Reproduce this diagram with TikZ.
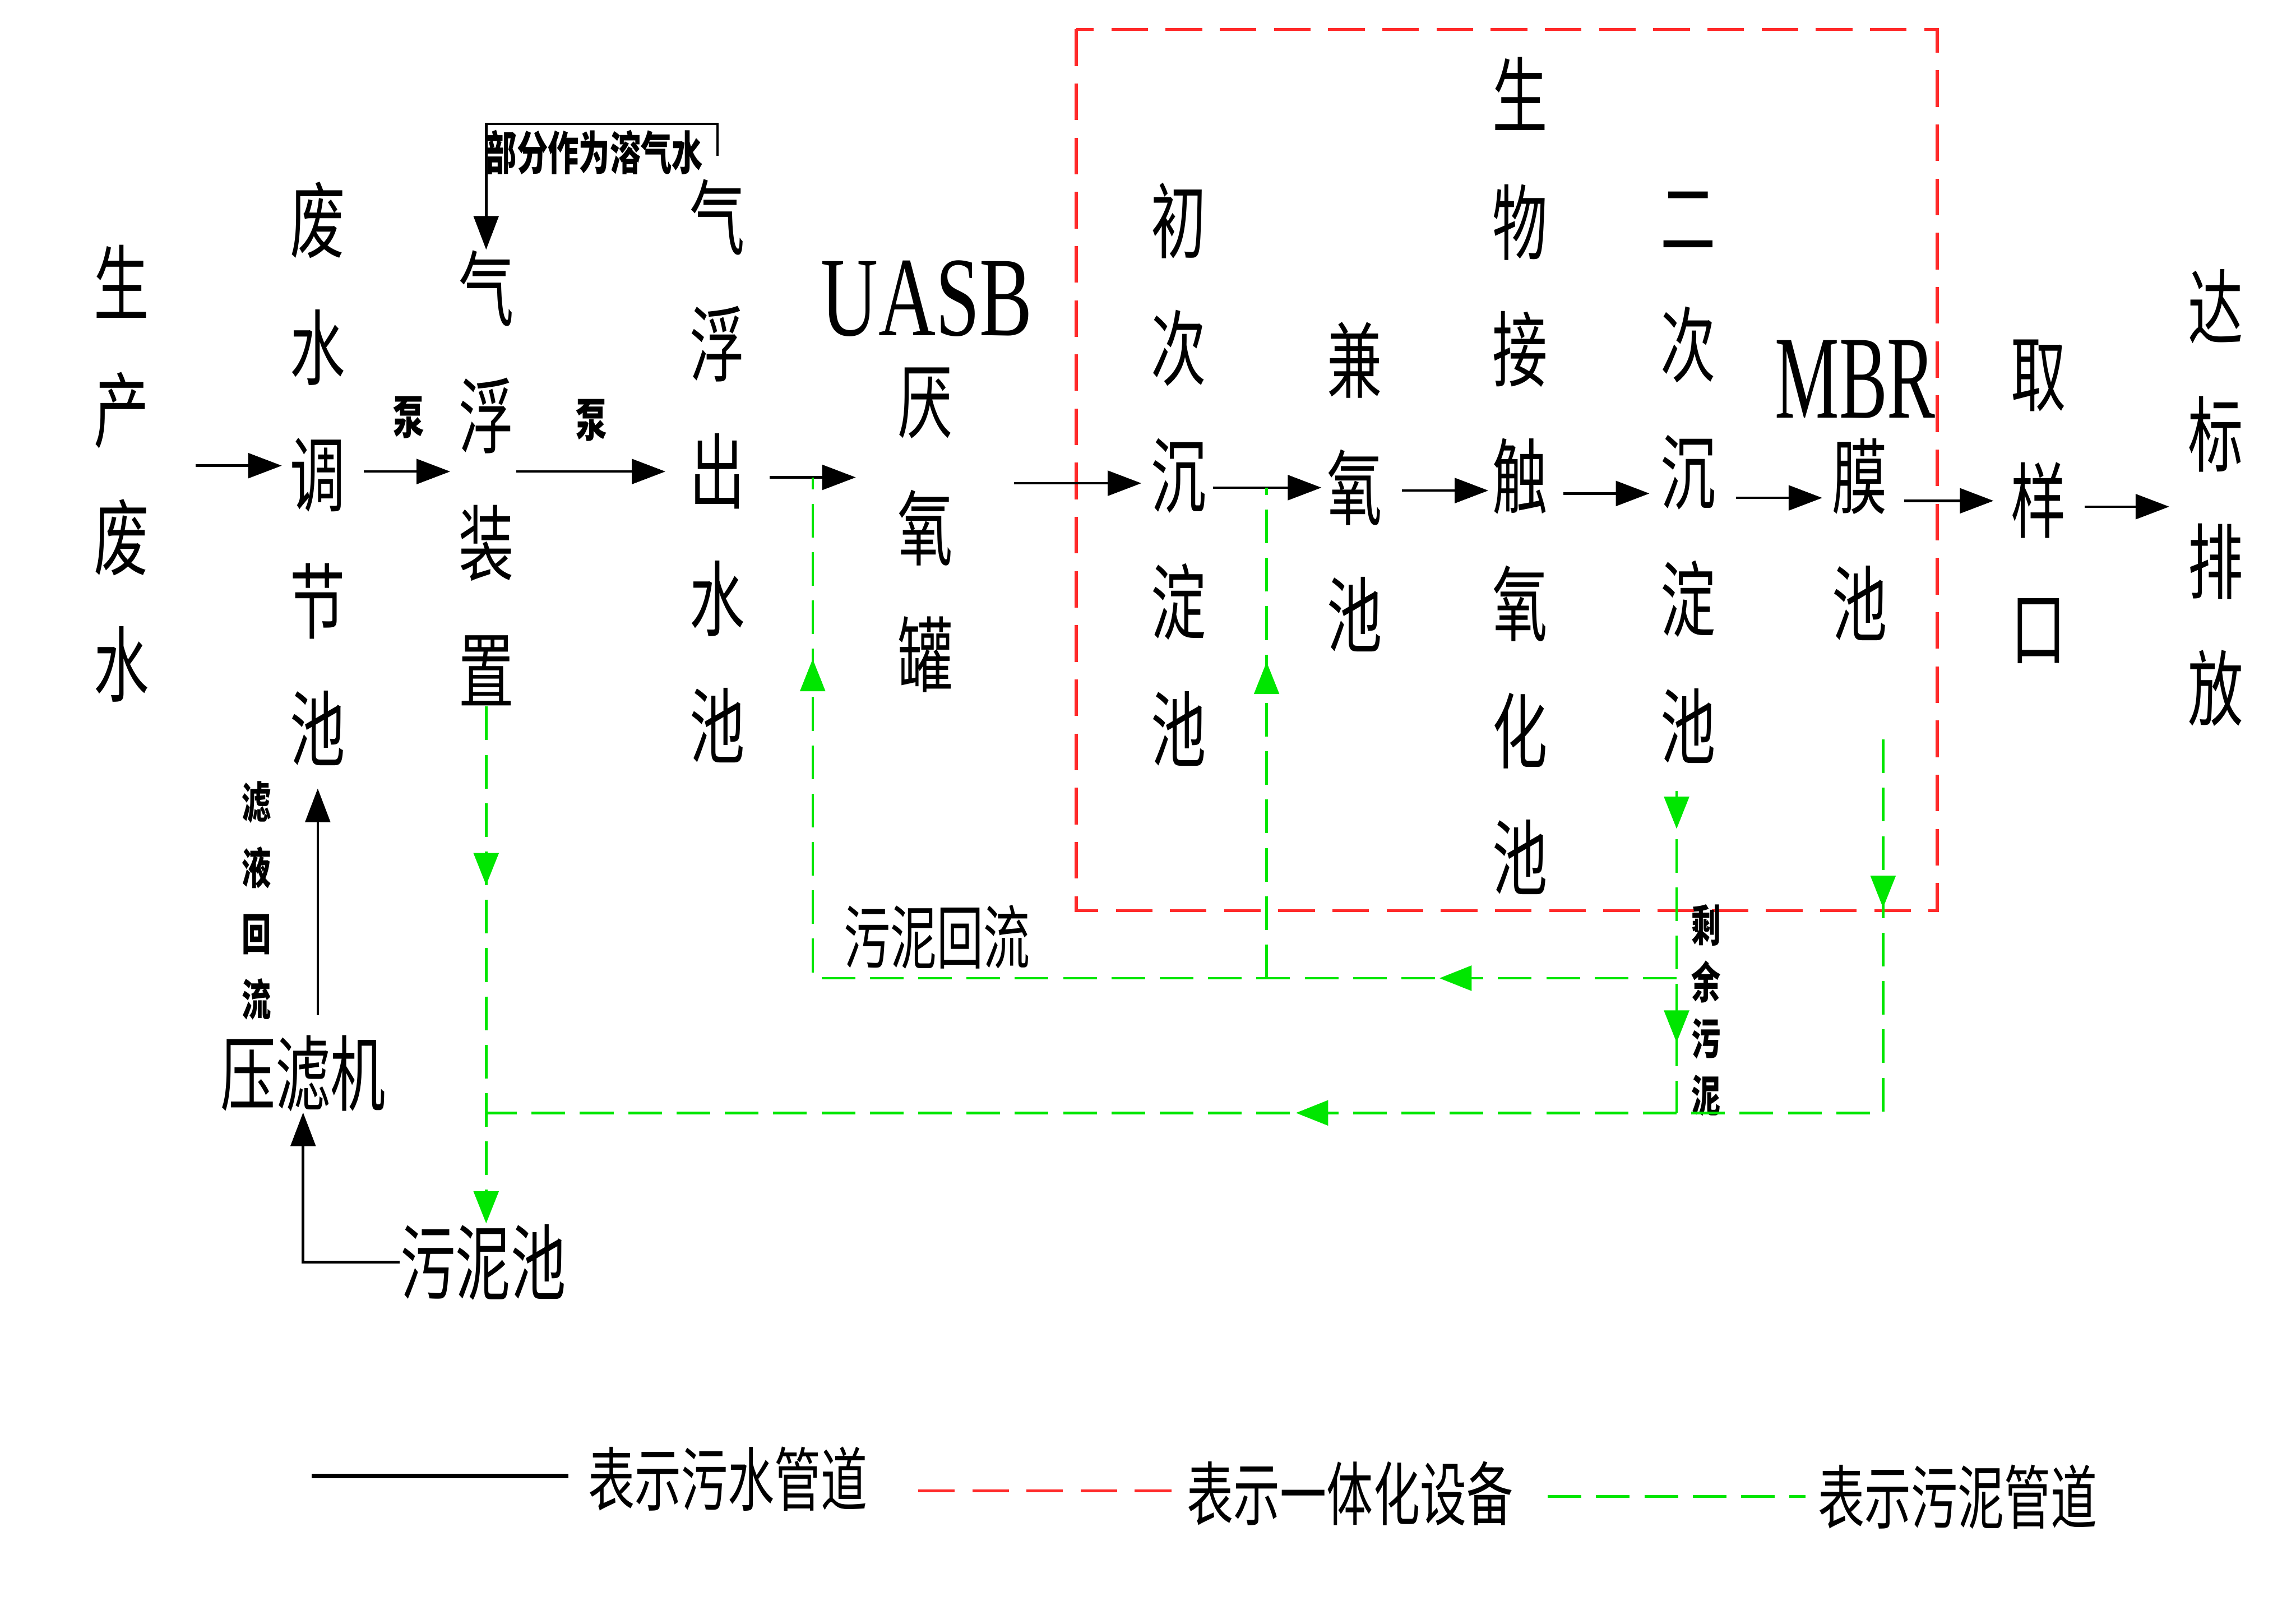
\documentclass[tikz,border=0pt]{standalone}
\usepackage{fontspec}
\setmainfont[FakeStretch=0.67]{Noto Sans CJK SC}
\newfontfamily\latnfont[FakeStretch=0.70]{Liberation Serif}
\newfontfamily\latnnarrow[FakeStretch=0.61]{Liberation Serif}
\usepackage{tikz}
\usetikzlibrary{arrows.meta,decorations.markings}
\definecolor{sludgegreen}{HTML}{00E600}
\definecolor{unitred}{HTML}{FF2A2A}

\begin{document}
\begin{tikzpicture}[x=0.1mm,y=-0.1mm,
  colnode/.style={align=center,inner sep=0pt,font=\fontsize{16}{24.7}\selectfont},
  bignote/.style={inner sep=0pt,font=\fontsize{16}{16}\selectfont},
  legendtext/.style={inner sep=0pt,font=\fontsize{13.5}{13.5}\selectfont},
  smallnote/.style={inner sep=0pt,font=\fontsize{9}{9}\selectfont\bfseries},
  tinycol/.style={align=center,inner sep=0pt,font=\fontsize{8.5}{#1}\selectfont\bfseries},
  latn/.style={inner sep=0pt,font=\latnfont\fontsize{22}{22}\selectfont},
  flow/.style={draw=black,line width=0.5pt,-{Triangle[length=2.3mm,width=1.7mm]}},
  sludgeline/.style={draw=sludgegreen,line width=0.5pt,dash pattern=on 2.3mm off 1mm},
  unitbox/.style={draw=unitred,line width=0.55pt,dash pattern=on 2.5mm off 1.2mm},
  tipat/.style={postaction={decorate,decoration={markings,
    mark=at position #1 with {\arrow{Triangle[length=2.2mm,width=1.7mm]}}}}}]
  \useasboundingbox (0,0) rectangle (1568,1093);

  % integrated unit
  \draw[unitbox] (735,20) rectangle (1323,622);

  % process columns
  \node[colnode] (scfs) at (83,323.5) {生\\产\\废\\水};
  \node[colnode] (tjc) at (217,323.5) {废\\水\\调\\节\\池};
  \node[colnode] (qfzz) at (332,326.5) {气\\浮\\装\\置};
  \node[colnode] (qfcs) at (490,321.5) {气\\浮\\出\\水\\池};
  \node[latn] (uasb) at (633,204) {UASB};
  \node[colnode] (yyg) at (632,362) {厌\\氧\\罐};
  \node[colnode] (ccc) at (805,324) {初\\次\\沉\\淀\\池};
  \node[colnode] (jyc) at (925,332.5) {兼\\氧\\池};
  \node[colnode] (swc) at (1038,325) {生\\物\\接\\触\\氧\\化\\池};
  \node[colnode] (ecc) at (1153,326) {二\\次\\沉\\淀\\池};
  \node[latn,font=\latnnarrow\fontsize{23}{23}\selectfont] (mbr) at (1267,259) {MBR};
  \node[colnode] (mc) at (1270,368.5) {膜\\池};
  \node[colnode] (qyk) at (1392,342.5) {取\\样\\口};
  \node[colnode] (dbpf) at (1513,340) {达\\标\\排\\放};

  \node[bignote] (ylj) at (207,733) {压滤机};
  \node[bignote] (wnc) at (330,862) {污泥池};

  % notes
  \node[smallnote] (beng1) at (279,285) {泵};
  \node[smallnote] (beng2) at (404,287) {泵};
  \node[smallnote] (fbnote) at (406,104) {部分作为溶气水};
  \node[tinycol=12.8] (lylnote) at (175,615) {滤\\液\\回\\流};
  \node[tinycol=11] (sywnote) at (1165,690) {剩\\余\\污\\泥};
  \node[legendtext] (hlnote) at (640,640) {污泥回流};

  % wastewater line
  \draw[flow,shorten <=3.1mm,shorten >=0.5mm] (scfs.east |- 0,318) -- (tjc.west |- 0,318);
  \draw[flow,shorten <=1.2mm,shorten >=0.5mm] (tjc.east |- 0,322) -- (qfzz.west |- 0,322);
  \draw[flow,shorten <=0.1mm,shorten >=1.6mm] (qfzz.east |- 0,322) -- (qfcs.west |- 0,322);
  \draw[flow,shorten <=1.6mm,shorten >=2.8mm] (qfcs.east |- 0,326) -- (yyg.west |- 0,326);
  \draw[flow,shorten <=4.1mm,shorten >=0.6mm] (yyg.east |- 0,330) -- (ccc.west |- 0,330);
  \draw[flow,shorten <=0.4mm,shorten >=0.3mm] (ccc.east |- 0,333) -- (jyc.west |- 0,333);
  \draw[flow,shorten <=1.3mm,shorten >=0.2mm] (jyc.east |- 0,335) -- (swc.west |- 0,335);
  \draw[flow,shorten <=1.0mm,shorten >=0.7mm] (swc.east |- 0,337) -- (ecc.west |- 0,337);
  \draw[flow,shorten <=1.3mm,shorten >=0.6mm] (ecc.east |- 0,340) -- (mc.west |- 0,340);
  \draw[flow,shorten <=1.1mm,shorten >=1.1mm] (mc.east |- 0,342) -- (qyk.west |- 0,342);
  \draw[flow,shorten <=1.2mm,shorten >=1.2mm] (qyk.east |- 0,346) -- (dbpf.west |- 0,346);

  % dissolved air water back to the float unit
  \draw[flow,shorten <=1.5mm] (qfcs.north) -- ++(0,-37) -| (qfzz.north);

  % filtrate back, press feed
  \draw[flow,shorten <=1.3mm,shorten >=1.5mm] (tjc.south |- ylj.north) -- (tjc.south);
  \draw[flow] (wnc.west) -| (ylj.south);

  % sludge lines
  \coordinate (rs1) at (555,326);
  \coordinate (rs2) at (865,333);
  \coordinate (ercout) at (1145,540);
  \coordinate (rsplit) at (1145,668);
  \coordinate (mbrout) at (1286,505);
  \coordinate (sjoin) at (332,760);
  \draw[sludgeline,tipat=12.2mm,-{Triangle[length=2.2mm,width=1.7mm]}]
    (qfzz.south) -- (qfzz.south |- wnc.north);
  \draw[sludgeline,tipat=11.5mm,tipat=65.6mm] (mbrout) |- (sjoin);
  \draw[sludgeline,tipat=2.6mm,tipat=17.2mm] (ercout) -- (ercout |- sjoin);
  \draw[sludgeline,tipat=16.2mm,tipat=80.8mm] (rsplit) -| (rs1);
  \draw[sludgeline,tipat=21.6mm] (rs2 |- rsplit) -- (rs2);

  % legend
  \draw[line width=0.8pt] (213,1008) -- (388,1008);
  \node[legendtext] (lgwater) at (497,1010) {表示污水管道};
  \draw[unitbox] (627,1018) -- (805,1018);
  \node[legendtext] (lgunit) at (922,1020) {表示一体化设备};
  \draw[sludgeline] (1057,1022) -- (1233,1022);
  \node[legendtext] (lgsludge) at (1337,1022) {表示污泥管道};
\end{tikzpicture}
\end{document}
